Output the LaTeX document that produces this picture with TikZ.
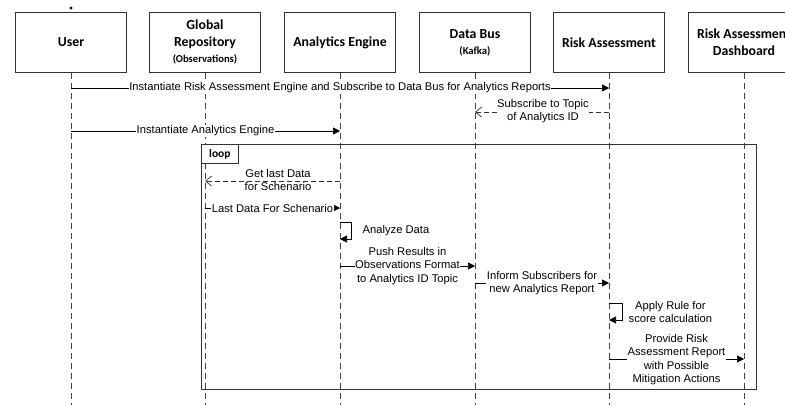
\documentclass[tikz,border=0pt]{standalone}
\usepackage{fontspec}
\setmainfont{Liberation Sans}
\newfontfamily\boxfont{Carlito}
\usetikzlibrary{arrows.meta}
\begin{document}
\begin{tikzpicture}[x=1pt,y=-1pt,
  actor/.style={draw=black!80,line width=0.8pt,fill=white,minimum width=111pt,minimum height=60pt,
    inner sep=0pt,align=center,font=\boxfont\bfseries\fontsize{13.8}{17}\selectfont,anchor=north},
  lifeline/.style={draw=black!75,line width=0.7pt,dash pattern=on 6pt off 4pt},
  msg/.style={draw=black,line width=0.7pt,-{Triangle[length=7pt,width=7pt]}},
  reply/.style={draw=black!80,line width=0.7pt,dash pattern=on 5pt off 3pt,-{Straight Barb[length=6pt,width=10pt]}},
  lbl/.style={fill=white,inner sep=0.5pt,align=center,font=\fontsize{11.2}{13.6}\selectfont},
  lblnf/.style={inner sep=0.5pt,align=center,font=\fontsize{11.2}{13.6}\selectfont}]
\useasboundingbox (0,0) rectangle (785,405);
\fill[white] (0,0) rectangle (785,405);

% participants
\node[actor] (user) at (71,12) {User};
\node[actor] (repo) at (205,12) {Global\\Repository\\[-1pt]{\fontsize{10.6}{15}\selectfont(Observations)}};
\node[actor] (eng) at (340,12) {Analytics Engine};
\node[actor] (bus) at (475,12) {Data Bus\\[-1pt]{\fontsize{10.6}{15}\selectfont(Kafka)}};
\node[actor] (risk) at (609,12) {Risk Assessment};
\node[actor] (dash) at (744,12) {Risk Assessment\\Dashboard};
\fill (71,8) circle (1.6pt);

% lifelines
\foreach \n/\x in {user/71,repo/205,eng/340,bus/475,risk/609,dash/744}{
  \coordinate (\n-end) at (\x,405);
  \draw[lifeline] (\n.south) -- (\n-end);
}

% named points on the lifelines
\foreach \n/\x in {user/71,repo/205,eng/340,bus/475,risk/609,dash/744}{
  \foreach \k/\y in {a/88,b/112,c/131,d/181,e/208,f/222,g/239,h/266,i/283,j/303,k/320,l/359}{
    \coordinate (\n\k) at (\x,\y);
  }
}

% loop frame
\draw[draw=black!80,line width=0.9pt] (201,144) rectangle (756,389);
\node[draw=black!80,line width=0.8pt,fill=white,minimum width=37pt,minimum height=19pt,inner sep=0pt,
  anchor=north west,font=\boxfont\bfseries\fontsize{11.5}{13}\selectfont] (loop) at (201,144) {loop};

% messages
\draw[msg] (usera) -- node[lbl]{Instantiate Risk Assessment Engine and Subscribe to Data Bus for Analytics Reports} (riska);
\draw[reply] (riskb) -- (busb);
\node[lblnf] (m2) at (543,111) {Subscribe to Topic\\of Analytics ID};
\fill[white] (m2.north west) rectangle (m2.south east);
\node[lblnf] at (543,111) {Subscribe to Topic\\of Analytics ID};
\draw[msg] (userc) -- node[lbl]{Instantiate Analytics Engine} (engc);

\draw[reply] (engd) -- (repod);
\node[lbl,fill=none] (m4) at (278,180) {Get last Data\\for Schenario};
\draw[msg,-{Triangle[length=6pt,width=6pt]}] (repoe) -- node[lbl]{Last Data For Schenario} (enge);

\coordinate (self1a) at (351,222);
\coordinate (self1b) at (351,239);
\draw[msg] (engf) -- (self1a) -- (self1b) -- (engg);
\node[lblnf,anchor=west] (m6) at (362,231) {Analyze Data};

\draw[msg] (engh) -- node[lbl]{Push Results in\\Observations Format\\to Analytics ID Topic} (bush);
\draw[msg] (busi) -- node[lbl]{Inform Subscribers for\\new Analytics Report} (riski);

\coordinate (self2a) at (622,303);
\coordinate (self2b) at (622,320);
\draw[msg] (riskj) -- (self2a) -- (self2b) -- (riskk);
\node[lblnf,anchor=west] (m9) at (628,312) {Apply Rule for\\score calculation};

\draw[msg] (riskl) -- node[lbl,yshift=-0.5pt]{Provide Risk\\Assessment Report\\with Possible\\Mitigation Actions} (dashl);
\end{tikzpicture}
\end{document}
